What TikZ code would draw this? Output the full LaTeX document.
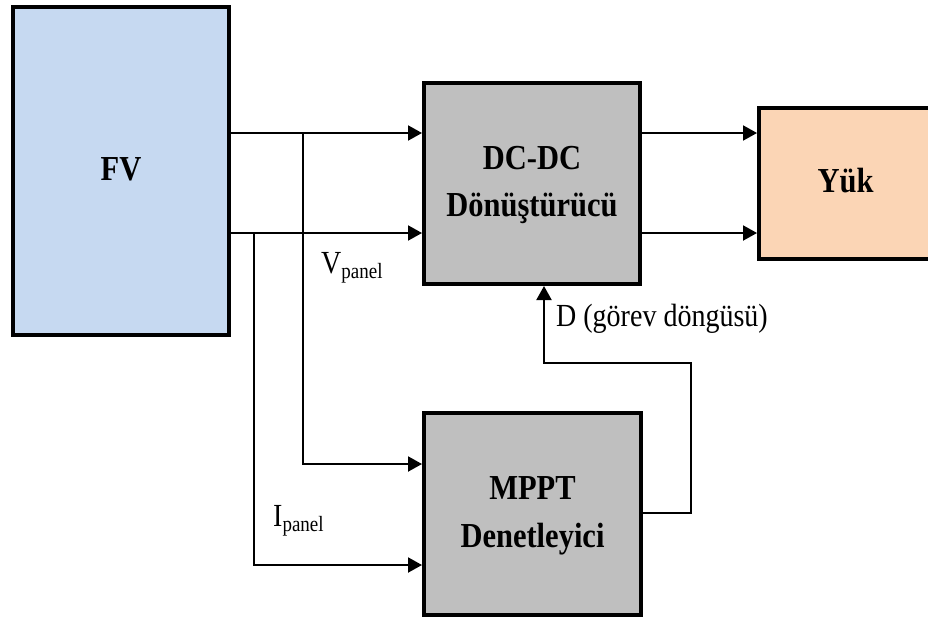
\documentclass[tikz,border=0pt]{standalone}
\usepackage{fontspec}
\setmainfont{Liberation Serif}
\usetikzlibrary{arrows.meta}
\definecolor{fvblue}{HTML}{C6D9F1}
\definecolor{boxgray}{HTML}{BFBFBF}
\definecolor{loadorange}{HTML}{FBD5B5}
\newcommand{\boxtxt}[1]{\scalebox{1}[1.15]{\fontsize{30.5}{41}\selectfont\bfseries\begin{tabular}{@{}c@{}}#1\end{tabular}}}
\newcommand{\lbltxt}[1]{\scalebox{1}[1.15]{\fontsize{28}{34}\selectfont #1}}
\newcommand{\subtxt}[1]{\raisebox{-5pt}{\fontsize{19}{22}\selectfont #1}}
\begin{document}
\begin{tikzpicture}[x=1pt,y=-1pt,
  blk/.style={draw=black,line width=4pt,rectangle,inner sep=0pt,anchor=center},
  wire/.style={line width=2pt},
  arr/.style={wire,-{Triangle[length=14pt,width=15pt]}},
  lbl/.style={inner sep=0pt,anchor=base west}]
\useasboundingbox (0,0) rectangle (928,621);
\clip (0,0) rectangle (928,621);
\fill[white] (0,0) rectangle (928,621);
\node[blk,fill=fvblue,minimum width=216pt,minimum height=328pt] (FV) at (121,171) {\boxtxt{FV}};
\node[blk,fill=boxgray,minimum width=216pt,minimum height=201pt] (DC) at (532,183.5) {\boxtxt{DC-DC\\Dönüştürücü}};
\node[blk,fill=loadorange,minimum width=190pt,minimum height=151pt] (YK) at (854,183.5) {\boxtxt{Yük}\hspace*{17pt}};
\node[blk,fill=boxgray,minimum width=217pt,minimum height=202pt] (MP) at (532.5,514) {\boxtxt{MPPT\\Denetleyici}};
\coordinate (ya) at (0,133);
\coordinate (yb) at (0,233);
\coordinate (yc) at (0,464);
\coordinate (yd) at (0,565);
\coordinate (tapV) at (303,133);
\coordinate (tapI) at (254,233);
\coordinate (fbR) at (691,363);
\coordinate (fbL) at (544,363);
% FV to DC-DC
\draw[arr] (FV.east |- ya) -- (DC.west |- ya);
\draw[arr] (FV.east |- yb) -- (DC.west |- yb);
% DC-DC to load
\draw[arr] (DC.east |- ya) -- (YK.west |- ya);
\draw[arr] (DC.east |- yb) -- (YK.west |- yb);
% taps to MPPT
\draw[arr] (tapV) |- (MP.west |- yc);
\draw[arr] (tapI) |- (MP.west |- yd);
% feedback
\draw[arr] (MP.east |- 0,513) -| (fbR) -- (fbL) -- (DC.south -| fbL);
% labels
\node[lbl] (vp) at (321,273) {\lbltxt{V\subtxt{panel}}};
\node[lbl] (ip) at (273,526) {\lbltxt{I\subtxt{panel}}};
\node[lbl] (dl) at (556,326) {\lbltxt{D (görev döngüsü)}};
\end{tikzpicture}
\end{document}
